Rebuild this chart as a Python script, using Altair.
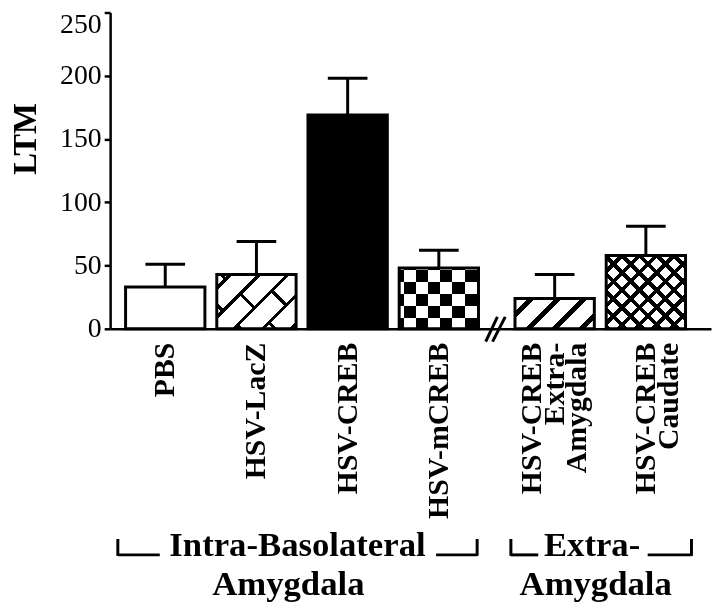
import math
import altair as alt
import pandas as pd

# ---------------- data ----------------
conditions = ["PBS", "HSV-LacZ", "HSV-CREB", "HSV-mCREB",
              "HSV-CREB\nExtra-\nAmygdala", "HSV-CREB\nCaudate"]
ltm_mean = [33, 43, 169, 48, 24, 58]
ltm_sem = [18, 26, 29, 14, 19, 23]
region = ["Intra-Basolateral Amygdala"] * 4 + ["Extra-Amygdala"] * 2
region_names = ["Intra-Basolateral Amygdala", "Extra-Amygdala"]
region_line1 = ["Intra-Basolateral", "Extra-"]
region_line2 = ["Amygdala", "Amygdala"]
y_ticks = [0, 50, 100, 150, 200, 250]
y_title = "LTM"

# ---------------- layout / style ----------------
PLOT_W, PLOT_H = 606, 319
Y_MAX = 250
X_MAX = 6.48
FIRST = 0.55        # first bar centre (x units)
GAP = 0.27          # extra gap at the axis break (x units)
BAR_W = 80
FONT = "Liberation Serif"
PX_PER_Y = PLOT_H / Y_MAX
PX_PER_X = PLOT_W / X_MAX
LAB_LH = 23                       # line spacing of category labels (px)
label_shift = [0, 0, 0, 0, 0, 12]  # px nudges of category label blocks

pos = [i + FIRST + GAP * region_names.index(r) for i, r in enumerate(region)]
upper = [m + s for m, s in zip(ltm_mean, ltm_sem)]
df = pd.DataFrame({"condition": conditions, "pos": pos, "mean": ltm_mean,
                   "upper": upper, "region": region})

xs = alt.Scale(domain=[0, X_MAX], nice=False, zero=False)
ys = alt.Scale(domain=[0, Y_MAX], nice=False)
x_axis = alt.Axis(labels=False, ticks=False, grid=False, title=None,
                  domainColor="black", domainWidth=2.5)
y_axis = alt.Axis(values=y_ticks, grid=False, title=y_title,
                  labelFont=FONT, labelFontSize=28, labelColor="black",
                  labelPadding=3, tickSize=6, tickWidth=2.5, tickColor="black",
                  domainColor="black", domainWidth=2.5,
                  labelOffset=alt.condition("datum.value == 250", alt.value(12), alt.value(0)),
                  titleFont=FONT, titleFontSize=33, titleFontWeight="bold",
                  titleColor="black", titleAngle=270, titleAlign="center",
                  titleBaseline="middle", titleX=-85, titleY=127)


def X(field="pos"):
    return alt.X(f"{field}:Q", scale=xs, axis=x_axis)


def Y(field="mean"):
    return alt.Y(f"{field}:Q", scale=ys, axis=y_axis)


def stripe_gradient(direction, w, h, period, thick, phase, on, off):
    """Hard-edged linear gradient giving stripes inside a w x h rectangle."""
    if direction == "v":
        span = w
        x1, y1, x2, y2 = 0, 0, 1, 0
    elif direction == "h":
        span = h
        x1, y1, x2, y2 = 0, 0, 0, 1
    else:
        span = w + h
        a = w * (w + h) / (w * w + h * h)
        if direction == "/":
            x1, y1, x2, y2 = 0, 0, a, a * h / w
        else:
            x1, y1, x2, y2 = 0, 1, a, 1 - a * h / w

    def color_at(u):
        return on if (u - phase) % period < thick else off

    bounds = set()
    k = math.floor(-phase / period) - 1
    while True:
        s = phase + k * period
        if s > span:
            break
        for b in (s, s + thick):
            if 0 < b < span:
                bounds.add(round(b, 4))
        k += 1
    stops = [alt.GradientStop(color=color_at(0), offset=0)]
    for b in sorted(bounds):
        off_t = round(b / span, 5)
        stops.append(alt.GradientStop(color=color_at(b - 1e-6), offset=off_t))
        stops.append(alt.GradientStop(color=color_at(b + 1e-6), offset=off_t))
    stops.append(alt.GradientStop(color=color_at(span), offset=1))
    return alt.LinearGradient(gradient="linear", stops=stops,
                              x1=x1, y1=y1, x2=x2, y2=y2)


def bar_layer(cond, fill, blend=None):
    kw = dict(width=BAR_W, orient="vertical", fill=fill, strokeWidth=0)
    if blend:
        kw["blend"] = blend
    return (alt.Chart(df).transform_filter(alt.datum.condition == cond)
            .mark_bar(**kw)
            .encode(x=X(), y=Y(), y2=alt.datum(0)))


def h_of(cond):
    return ltm_mean[conditions.index(cond)] * PX_PER_Y


W = BAR_W
BLACK, WHITE, CLEAR = "black", "white", "rgba(0,0,0,0)"
layers = []

# PBS: open bar, HSV-CREB: solid bar
layers.append(bar_layer("PBS", WHITE))
layers.append(bar_layer("HSV-CREB", BLACK))

# HSV-LacZ: diagonal brick pattern (long "/" lines, staggered "\" cross-bars)
c = "HSV-LacZ"; h = h_of(c)
layers.append(bar_layer(c, stripe_gradient("\\", W, h, 35, 4.5, 21.75, BLACK, WHITE)))
layers.append(bar_layer(c, stripe_gradient("/", W, h, 58, 29, 14, WHITE, BLACK), "lighten"))
layers.append(bar_layer(c, stripe_gradient("\\", W, h, 70, 4.5, 21.75, WHITE, BLACK), "difference"))
layers.append(bar_layer(c, stripe_gradient("/", W, h, 29, 4.5, 11.75, BLACK, CLEAR)))

# HSV-mCREB: checkerboard
c = "HSV-mCREB"; h = h_of(c)
layers.append(bar_layer(c, stripe_gradient("v", W, h, 24.6, 12.3, 16.8, BLACK, WHITE)))
layers.append(bar_layer(c, stripe_gradient("h", W, h, 24.0, 12.0, 14.3, WHITE, BLACK), "difference"))

# HSV-CREB Extra-Amygdala: single hatch
c = conditions[4]; h = h_of(c)
layers.append(bar_layer(c, stripe_gradient("/", W, h, 27, 7, 13.1, BLACK, WHITE)))

# HSV-CREB Caudate: cross hatch
c = conditions[5]; h = h_of(c)
layers.append(bar_layer(c, stripe_gradient("/", W, h, 17.5, 5.5, 13.25, BLACK, WHITE)))
layers.append(bar_layer(c, stripe_gradient("\\", W, h, 17.5, 5.5, 17.25, BLACK, CLEAR)))

# outlines
layers.append(alt.Chart(df).mark_bar(width=BAR_W, orient="vertical", filled=False,
                                     stroke="black", strokeWidth=3)
              .encode(x=X(), y=Y(), y2=alt.datum(0)))

# error bars (upper only)
layers.append(alt.Chart(df).mark_rule(color="black", strokeWidth=3)
              .encode(x=X(), y=Y(), y2=alt.Y2("upper:Q")))
layers.append(alt.Chart(df).mark_tick(orient="horizontal", size=40, thickness=3,
                                      color="black", opacity=1)
              .encode(x=X(), y=Y("upper")))

# category labels (one row per text line, lines stacked side by side)
rows_lab = []
for i, cond in enumerate(conditions):
    lines = cond.split("\n")
    n = len(lines)
    for j, ln in enumerate(lines):
        off_px = (j - (n - 1) / 2) * LAB_LH + label_shift[i]
        rows_lab.append({"pos": pos[i] + off_px / PX_PER_X, "t": ln})
layers.append(alt.Chart(pd.DataFrame(rows_lab)).mark_text(
    angle=270, align="right", baseline="middle", font=FONT,
    fontSize=30, fontWeight="bold", color="black")
    .encode(x=X(), y=alt.value(333), text="t:N"))

# axis break marks
bx = (pos[3] + pos[4]) / 2
df_break = pd.DataFrame({"x0": [bx - 0.121, bx - 0.046], "x1": [bx + 0.007, bx + 0.093]})
layers.append(alt.Chart(df_break).mark_rule(color="black", strokeWidth=3)
              .encode(x=X("x0"), x2=alt.X2("x1:Q"), y=alt.value(332), y2=alt.value(307)))

# region brackets and labels
pad_l = [0.52, 0.48]
pad_r = [0.42, 0.50]
arm_l = [0.46, 0.30]
arm_r = [0.45, 0.48]
shift1 = [0.0, -0.10]
shift2 = [-0.10, -0.06]
rows_arm, rows_tick, rows_t1, rows_t2 = [], [], [], []
for gi, g in enumerate(region_names):
    gp = [p for p, r in zip(pos, region) if r == g]
    s, e = min(gp) - pad_l[gi], max(gp) + pad_r[gi]
    ctr = (s + e) / 2
    rows_arm += [{"x0": s, "x1": s + arm_l[gi]}, {"x0": e - arm_r[gi], "x1": e}]
    rows_tick += [{"pos": s}, {"pos": e}]
    rows_t1.append({"pos": ctr + shift1[gi], "t": region_line1[gi]})
    rows_t2.append({"pos": ctr + shift2[gi], "t": region_line2[gi]})

layers.append(alt.Chart(pd.DataFrame(rows_arm)).mark_rule(color="black", strokeWidth=3)
              .encode(x=X("x0"), x2=alt.X2("x1:Q"), y=alt.value(547)))
layers.append(alt.Chart(pd.DataFrame(rows_tick)).mark_rule(color="black", strokeWidth=3)
              .encode(x=X(), y=alt.value(531), y2=alt.value(548)))
for rows, yv in ((rows_t1, 548), (rows_t2, 587)):
    layers.append(alt.Chart(pd.DataFrame(rows)).mark_text(
        align="center", baseline="alphabetic", font=FONT, fontSize=35,
        fontWeight="bold", color="black")
        .encode(x=X(), y=alt.value(yv), text="t:N"))

chart = (alt.layer(*layers)
         .properties(width=PLOT_W, height=PLOT_H,
                     autosize=alt.AutoSizeParams(type="none"),
                     padding={"left": 103, "top": 2, "right": 1, "bottom": 275})
         .configure_view(stroke=None))

chart.save("out.html", embed_options={"renderer": "svg", "actions": False})
